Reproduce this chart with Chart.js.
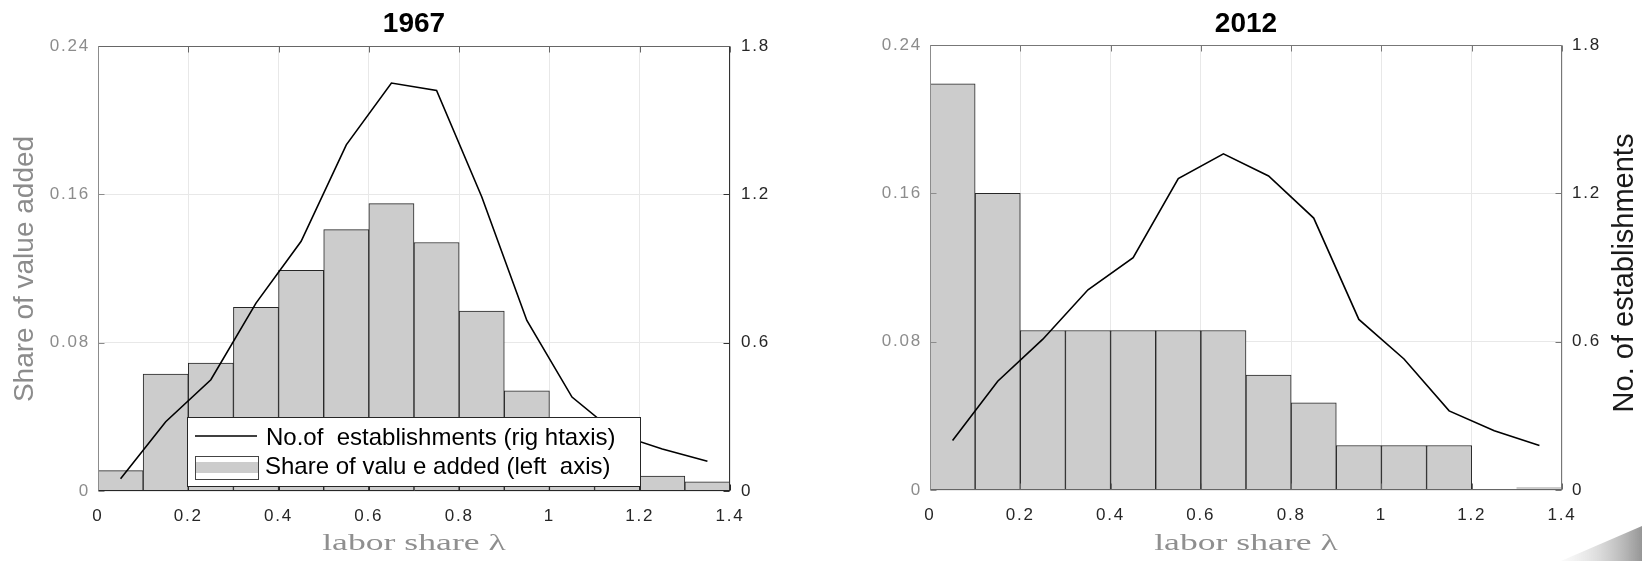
<!DOCTYPE html>
<html>
<head>
<meta charset="utf-8">
<script src="https://cdn.jsdelivr.net/npm/chart.js@4.4.1/dist/chart.umd.min.js"></script>
<style>
  html, body { margin: 0; padding: 0; background: #fff; }
  #wrap { position: relative; width: 1642px; height: 561px; overflow: hidden; }
  .pane { position: absolute; top: 0; width: 821px; height: 561px; }
  #p1 { left: 0; }
  #p2 { left: 821px; }
</style>
</head>
<body>
<div id="wrap">
  <div class="pane" id="p1"><canvas id="c1" width="821" height="561"></canvas></div>
  <div class="pane" id="p2"><canvas id="c2" width="821" height="561"></canvas></div>
</div>
<script>
// Histogram bins of width 0.1 over the labor share, given by their centres
const binCenters = [0.05, 0.15, 0.25, 0.35, 0.45, 0.55, 0.65, 0.75, 0.85, 0.95, 1.05, 1.15, 1.25, 1.35];

// Share of value added per bin (left axis)
const valueShare1967 = [0.011, 0.063, 0.069, 0.099, 0.119, 0.141, 0.155, 0.134, 0.097, 0.054, 0.030, 0.020, 0.008, 0.005];
const valueShare2012 = [0.219, 0.160, 0.086, 0.086, 0.086, 0.086, 0.086, 0.062, 0.047, 0.024, 0.024, 0.024, 0.000, 0.0015];

// Number of establishments, density per bin (right axis)
const estab1967 = [0.05, 0.28, 0.45, 0.76, 1.01, 1.40, 1.65, 1.62, 1.19, 0.69, 0.38, 0.23, 0.17, 0.12];
const estab2012 = [0.20, 0.44, 0.61, 0.81, 0.94, 1.26, 1.36, 1.27, 1.10, 0.69, 0.53, 0.32, 0.24, 0.18];

// Tick labels
const xTicks = [0, 0.2, 0.4, 0.6, 0.8, 1, 1.2, 1.4];
const leftTicks = [0, 0.08, 0.16, 0.24];
const rightTicks = [0, 0.6, 1.2, 1.8];

const panelTitles = ['1967', '2012'];
const xTitle = 'labor share \u03bb';
const leftTitle = 'Share of value added';
const rightTitle = 'No. of establishments';
const legendLabels = ['No.of  establishments (rig htaxis)', 'Share of valu e added (left  axis)'];

const fmt = v => String(parseFloat(Number(v).toFixed(2)));
const fixTicks = list => scale => { scale.ticks = list.map(v => ({ value: v })); };
const FONT = '"Liberation Sans", Arial, sans-serif';

function pts(values) {
  return binCenters.map((x, i) => ({ x: x, y: values[i] }));
}

function seg(ctx, x1, y1, x2, y2, color) {
  ctx.strokeStyle = color;
  ctx.beginPath();
  ctx.moveTo(x1, y1);
  ctx.lineTo(x2, y2);
  ctx.stroke();
}

// Box frame with inward tick marks, titles and the in-plot legend
const framePlugin = {
  id: 'frame',
  beforeDraw(chart) { chart.ctx.letterSpacing = '1.8px'; },
  beforeDatasetsDraw(chart) { chart.ctx.letterSpacing = '0px'; },
  afterDraw(chart, args, o) {
    const ctx = chart.ctx;
    const a = chart.chartArea;
    const xs = chart.scales.x, yl = chart.scales.yL, yr = chart.scales.yR;
    ctx.save();
    ctx.letterSpacing = '0px';
    ctx.lineWidth = 1;
    const L = Math.round(a.left) + 0.5, R = Math.round(a.right) - 0.5;
    const T = Math.round(a.top) + 0.5, B = Math.round(a.bottom) - 0.5;
    const tk = 6;
    xTicks.forEach(v => {
      const p = Math.round(xs.getPixelForValue(v)) + 0.5;
      seg(ctx, p, B, p, B - tk, o.bottomColor);
      seg(ctx, p, T, p, T + tk, o.topColor);
    });
    leftTicks.forEach(v => {
      const p = Math.round(yl.getPixelForValue(v)) + 0.5;
      seg(ctx, L, p, L + tk, p, o.leftColor);
    });
    rightTicks.forEach(v => {
      const p = Math.round(yr.getPixelForValue(v)) + 0.5;
      seg(ctx, R, p, R - tk, p, o.rightColor);
    });
    seg(ctx, L, T, R, T, o.topColor);
    seg(ctx, L, B, R + 0.5, B, o.bottomColor);
    seg(ctx, L, T, L, B, o.leftColor);
    seg(ctx, R, T, R, B, o.rightColor);

    // panel title
    const cx = (a.left + a.right) / 2;
    ctx.fillStyle = '#000';
    ctx.font = 'bold 28px ' + FONT;
    ctx.textAlign = 'center';
    ctx.textBaseline = 'alphabetic';
    ctx.fillText(o.title, cx, 32);

    // x-axis title in a wide serif face
    ctx.save();
    ctx.translate(cx, 550);
    ctx.scale(1.55, 1);
    ctx.fillStyle = '#8f8f8f';
    ctx.font = '23px "Liberation Serif", "DejaVu Serif", serif';
    ctx.fillText(xTitle, 0, 0);
    ctx.restore();

    // y-axis titles, reading bottom to top
    if (o.leftTitle) {
      ctx.save();
      ctx.translate(25, 269);
      ctx.rotate(-Math.PI / 2);
      ctx.fillStyle = '#8c8c8c';
      ctx.font = '28px ' + FONT;
      ctx.textBaseline = 'middle';
      ctx.fillText(o.leftTitle, 0, 0);
      ctx.restore();
    }
    if (o.rightTitle) {
      ctx.save();
      ctx.translate(804, 273);
      ctx.rotate(-Math.PI / 2);
      ctx.fillStyle = '#1a1a1a';
      ctx.font = '29px ' + FONT;
      ctx.textBaseline = 'middle';
      ctx.fillText(o.rightTitle, 0, 0);
      ctx.restore();
    }

    // legend box
    if (o.legend) {
      ctx.fillStyle = '#fff';
      ctx.fillRect(187, 417, 454, 70);
      ctx.strokeStyle = '#262626';
      ctx.strokeRect(187.5, 417.5, 453, 69);
      ctx.lineWidth = 1.5;
      seg(ctx, 195, 436, 257, 436, '#000');
      ctx.lineWidth = 1;
      ctx.fillStyle = '#fff';
      ctx.fillRect(195, 456, 63, 23);
      ctx.fillStyle = '#cccccc';
      ctx.fillRect(196, 462, 62, 11);
      ctx.strokeStyle = '#444';
      ctx.strokeRect(195.5, 456.5, 63, 23);
      ctx.fillStyle = '#000';
      ctx.font = '24px ' + FONT;
      ctx.textAlign = 'left';
      ctx.textBaseline = 'alphabetic';
      ctx.fillText(legendLabels[0], 266, 445);
      ctx.fillText(legendLabels[1], 265, 474);
    }

    // shaded page corner
    if (o.corner) {
      const g = ctx.createLinearGradient(740, 0, 821, 0);
      g.addColorStop(0, 'rgba(230,230,230,0.2)');
      g.addColorStop(1, 'rgba(150,150,150,1)');
      ctx.fillStyle = g;
      ctx.beginPath();
      ctx.moveTo(740, 561);
      ctx.lineTo(821, 526);
      ctx.lineTo(821, 561);
      ctx.closePath();
      ctx.fill();
    }
    ctx.restore();
  }
};

function makeChart(id, shares, estab, lay, frameOpts) {
  const shareBorder = shares.map(v => (v < 0.003 ? 0 : 1));
  return new Chart(document.getElementById(id), {
    data: {
      datasets: [
        {
          type: 'line',
          label: legendLabels[0],
          data: pts(estab),
          yAxisID: 'yR',
          borderColor: '#000',
          borderWidth: 1.6,
          pointRadius: 0,
          tension: 0,
          order: 0
        },
        {
          type: 'bar',
          label: legendLabels[1],
          data: pts(shares),
          yAxisID: 'yL',
          backgroundColor: '#cccccc',
          borderColor: '#262626',
          borderWidth: shareBorder,
          borderSkipped: 'bottom',
          barPercentage: 1,
          categoryPercentage: 1,
          grouped: false,
          order: 1
        }
      ]
    },
    options: {
      responsive: false,
      animation: false,
      events: [],
      layout: { padding: { top: lay.top, left: 0, right: 0, bottom: 0 } },
      plugins: {
        legend: { display: false },
        tooltip: { enabled: false },
        title: { display: false },
        frame: frameOpts
      },
      scales: {
        x: {
          type: 'linear',
          position: 'bottom',
          min: 0,
          max: 1.4,
          offset: false,
          afterBuildTicks: fixTicks(xTicks),
          afterFit: s => { s.height = lay.bottomH; },
          ticks: {
            callback: fmt,
            color: '#262626',
            font: { family: FONT, size: 17 },
            padding: 15,
            maxRotation: 0,
            autoSkip: false
          },
          grid: { color: '#e8e8e8', drawTicks: false, offset: false },
          border: { display: false }
        },
        yL: {
          type: 'linear',
          position: 'left',
          min: 0,
          max: 0.24,
          afterBuildTicks: fixTicks(leftTicks),
          afterFit: s => { s.width = lay.leftW; },
          ticks: {
            callback: fmt,
            color: '#8c8c8c',
            font: { family: FONT, size: 17 },
            padding: 8
          },
          grid: { color: '#e8e8e8', drawTicks: false },
          border: { display: false }
        },
        yR: {
          type: 'linear',
          position: 'right',
          min: 0,
          max: 1.8,
          afterBuildTicks: fixTicks(rightTicks),
          afterFit: s => { s.width = lay.rightW; },
          ticks: {
            callback: fmt,
            color: '#262626',
            font: { family: FONT, size: 17 },
            padding: lay.rightPad
          },
          grid: { drawOnChartArea: false, drawTicks: false },
          border: { display: false }
        }
      }
    },
    plugins: [framePlugin]
  });
}

makeChart('c1', valueShare1967, estab1967,
  { top: 46, bottomH: 70, leftW: 98, rightW: 91, rightPad: 11 },
  { title: panelTitles[0], leftTitle: leftTitle, legend: true,
    topColor: '#666', bottomColor: '#262626', leftColor: '#8c8c8c', rightColor: '#333' });

makeChart('c2', valueShare2012, estab2012,
  { top: 45, bottomH: 71, leftW: 109, rightW: 80, rightPad: 10 },
  { title: panelTitles[1], rightTitle: rightTitle, corner: true,
    topColor: '#777', bottomColor: '#666', leftColor: '#8c8c8c', rightColor: '#777' });
</script>
</body>
</html>
